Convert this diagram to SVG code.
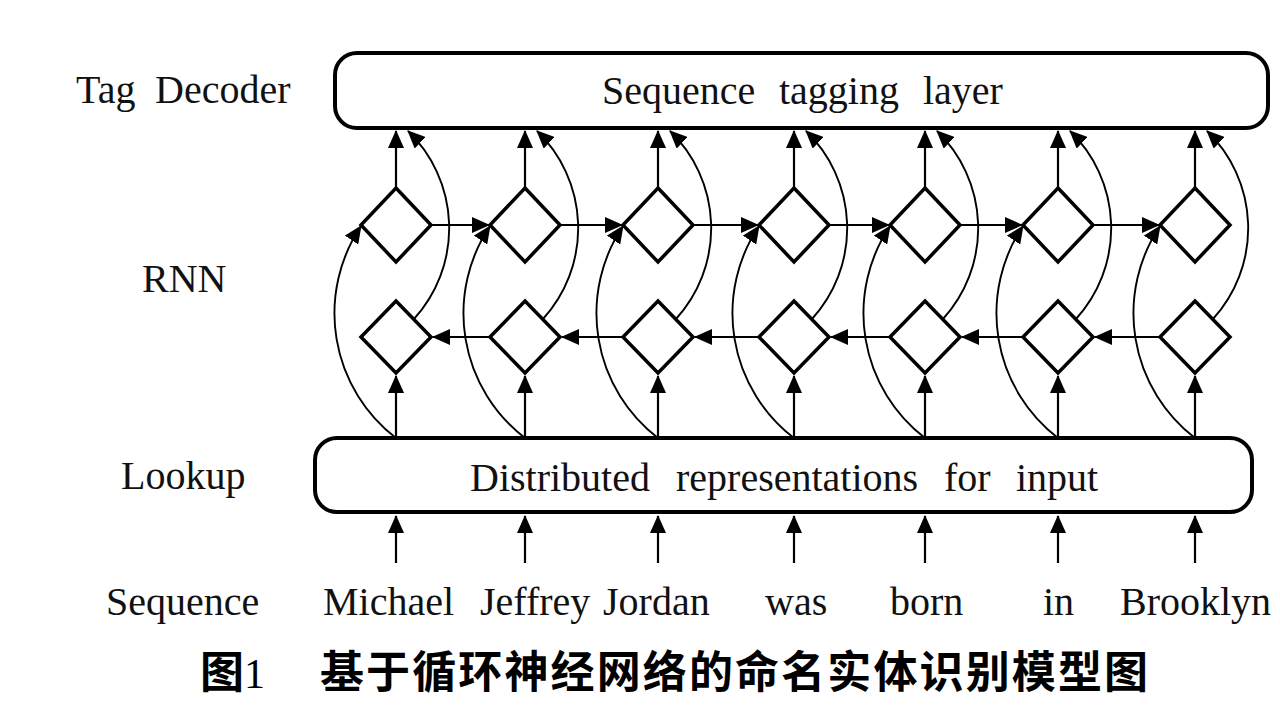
<svg xmlns="http://www.w3.org/2000/svg" width="1280" height="705" viewBox="0 0 1280 705">
<style>
.lbl{font-family:"Liberation Serif","Times New Roman",serif;font-size:40px;fill:#111}
.box{fill:#fff;stroke:#000;stroke-width:4}
.dia{fill:#fff;stroke:#000;stroke-width:3.5;stroke-linejoin:miter}
.ln{fill:none;stroke:#000;stroke-width:2.2}
.cv{fill:none;stroke:#000;stroke-width:1.9}
.cap{font-family:"Noto Sans CJK SC","Noto Sans CJK TC",sans-serif;font-weight:700;font-size:44px;fill:#000}
</style>
<defs>
<marker id="ah" markerUnits="userSpaceOnUse" markerWidth="18" markerHeight="16" viewBox="0 0 18 16" refX="17" refY="8" orient="auto">
<path d="M0,0 L18,8 L0,16 z" fill="#000"/>
</marker>
</defs>
<rect width="1280" height="705" fill="#fff"/>

<g id="labels">
<text class="lbl" x="76" y="103">Tag</text>
<text class="lbl" x="155" y="103">Decoder</text>
<text class="lbl" x="142" y="292">RNN</text>
<text class="lbl" x="121" y="489">Lookup</text>
<text class="lbl" x="106" y="615">Sequence</text>
</g>

<g id="tag-layer">
<rect class="box" x="335" y="53" width="933" height="75" rx="22"/>
<text class="lbl" y="104"><tspan x="602">Sequence</tspan><tspan x="779">tagging</tspan><tspan x="923">layer</tspan></text>
</g>

<g id="lookup-layer">
<rect class="box" x="315" y="438" width="937" height="74" rx="22"/>
<text class="lbl" y="491"><tspan x="470">Distributed</tspan><tspan x="676">representations</tspan><tspan x="944">for</tspan><tspan x="1016">input</tspan></text>
</g>

<g id="rnn-forward">
<path class="dia" d="M396,188 L431,225 L396,262 L361,225 Z"/>
<path class="dia" d="M525,188 L560,225 L525,262 L490,225 Z"/>
<path class="dia" d="M658,188 L693,225 L658,262 L623,225 Z"/>
<path class="dia" d="M794,188 L829,225 L794,262 L759,225 Z"/>
<path class="dia" d="M925,188 L960,225 L925,262 L890,225 Z"/>
<path class="dia" d="M1058,188 L1093,225 L1058,262 L1023,225 Z"/>
<path class="dia" d="M1195,188 L1230,225 L1195,262 L1160,225 Z"/>
</g>

<g id="rnn-backward">
<path class="dia" d="M396,301 L431,337 L396,373 L361,337 Z"/>
<path class="dia" d="M525,301 L560,337 L525,373 L490,337 Z"/>
<path class="dia" d="M658,301 L693,337 L658,373 L623,337 Z"/>
<path class="dia" d="M794,301 L829,337 L794,373 L759,337 Z"/>
<path class="dia" d="M925,301 L960,337 L925,373 L890,337 Z"/>
<path class="dia" d="M1058,301 L1093,337 L1058,373 L1023,337 Z"/>
<path class="dia" d="M1195,301 L1230,337 L1195,373 L1160,337 Z"/>
</g>

<g id="words">
<text class="lbl" x="323" y="615">Michael</text>
<text class="lbl" x="480" y="615">Jeffrey</text>
<text class="lbl" x="603" y="615">Jordan</text>
<text class="lbl" x="765" y="615">was</text>
<text class="lbl" x="890" y="615">born</text>
<text class="lbl" x="1043" y="615">in</text>
<text class="lbl" x="1120" y="615">Brooklyn</text>
</g>

<g id="connectors">
<path class="ln" marker-end="url(#ah)" d="M396,563 V516"/>
<path class="ln" marker-end="url(#ah)" d="M525,563 V516"/>
<path class="ln" marker-end="url(#ah)" d="M658,563 V516"/>
<path class="ln" marker-end="url(#ah)" d="M794,563 V516"/>
<path class="ln" marker-end="url(#ah)" d="M925,563 V516"/>
<path class="ln" marker-end="url(#ah)" d="M1058,563 V516"/>
<path class="ln" marker-end="url(#ah)" d="M1195,563 V516"/>
<path class="ln" marker-end="url(#ah)" d="M396,438 V376"/>
<path class="ln" marker-end="url(#ah)" d="M525,438 V376"/>
<path class="ln" marker-end="url(#ah)" d="M658,438 V376"/>
<path class="ln" marker-end="url(#ah)" d="M794,438 V376"/>
<path class="ln" marker-end="url(#ah)" d="M925,438 V376"/>
<path class="ln" marker-end="url(#ah)" d="M1058,438 V376"/>
<path class="ln" marker-end="url(#ah)" d="M1195,438 V376"/>
<path class="ln" marker-end="url(#ah)" d="M396,188 V131"/>
<path class="ln" marker-end="url(#ah)" d="M525,188 V131"/>
<path class="ln" marker-end="url(#ah)" d="M658,188 V131"/>
<path class="ln" marker-end="url(#ah)" d="M794,188 V131"/>
<path class="ln" marker-end="url(#ah)" d="M925,188 V131"/>
<path class="ln" marker-end="url(#ah)" d="M1058,188 V131"/>
<path class="ln" marker-end="url(#ah)" d="M1195,188 V131"/>
<path class="ln" marker-end="url(#ah)" d="M431,225 H489"/>
<path class="ln" marker-end="url(#ah)" d="M560,225 H622"/>
<path class="ln" marker-end="url(#ah)" d="M693,225 H758"/>
<path class="ln" marker-end="url(#ah)" d="M829,225 H889"/>
<path class="ln" marker-end="url(#ah)" d="M960,225 H1022"/>
<path class="ln" marker-end="url(#ah)" d="M1093,225 H1159"/>
<path class="ln" marker-end="url(#ah)" d="M490,337 H433"/>
<path class="ln" marker-end="url(#ah)" d="M623,337 H562"/>
<path class="ln" marker-end="url(#ah)" d="M759,337 H695"/>
<path class="ln" marker-end="url(#ah)" d="M890,337 H831"/>
<path class="ln" marker-end="url(#ah)" d="M1023,337 H962"/>
<path class="ln" marker-end="url(#ah)" d="M1160,337 H1095"/>
<path class="cv" marker-end="url(#ah)" d="M396,438 A157,157 0 0 1 361,226"/>
<path class="cv" marker-end="url(#ah)" d="M525,438 A157,157 0 0 1 490,226"/>
<path class="cv" marker-end="url(#ah)" d="M658,438 A157,157 0 0 1 623,226"/>
<path class="cv" marker-end="url(#ah)" d="M794,438 A157,157 0 0 1 759,226"/>
<path class="cv" marker-end="url(#ah)" d="M925,438 A157,157 0 0 1 890,226"/>
<path class="cv" marker-end="url(#ah)" d="M1058,438 A157,157 0 0 1 1023,226"/>
<path class="cv" marker-end="url(#ah)" d="M1195,438 A157,157 0 0 1 1160,226"/>
<path class="cv" marker-end="url(#ah)" d="M414,319 A135,135 0 0 0 408,131"/>
<path class="cv" marker-end="url(#ah)" d="M543,319 A135,135 0 0 0 537,131"/>
<path class="cv" marker-end="url(#ah)" d="M676,319 A135,135 0 0 0 670,131"/>
<path class="cv" marker-end="url(#ah)" d="M812,319 A135,135 0 0 0 806,131"/>
<path class="cv" marker-end="url(#ah)" d="M943,319 A135,135 0 0 0 937,131"/>
<path class="cv" marker-end="url(#ah)" d="M1076,319 A135,135 0 0 0 1070,131"/>
<path class="cv" marker-end="url(#ah)" d="M1213,319 A135,135 0 0 0 1207,131"/>
</g>

<g id="caption">
<text class="cap" x="200" y="688">图<tspan font-family="Liberation Serif, serif" font-weight="400" font-size="42">1</tspan></text>
<text class="cap" x="320" y="688" textLength="828" lengthAdjust="spacing">基于循环神经网络的命名实体识别模型图</text>
</g>
</svg>
